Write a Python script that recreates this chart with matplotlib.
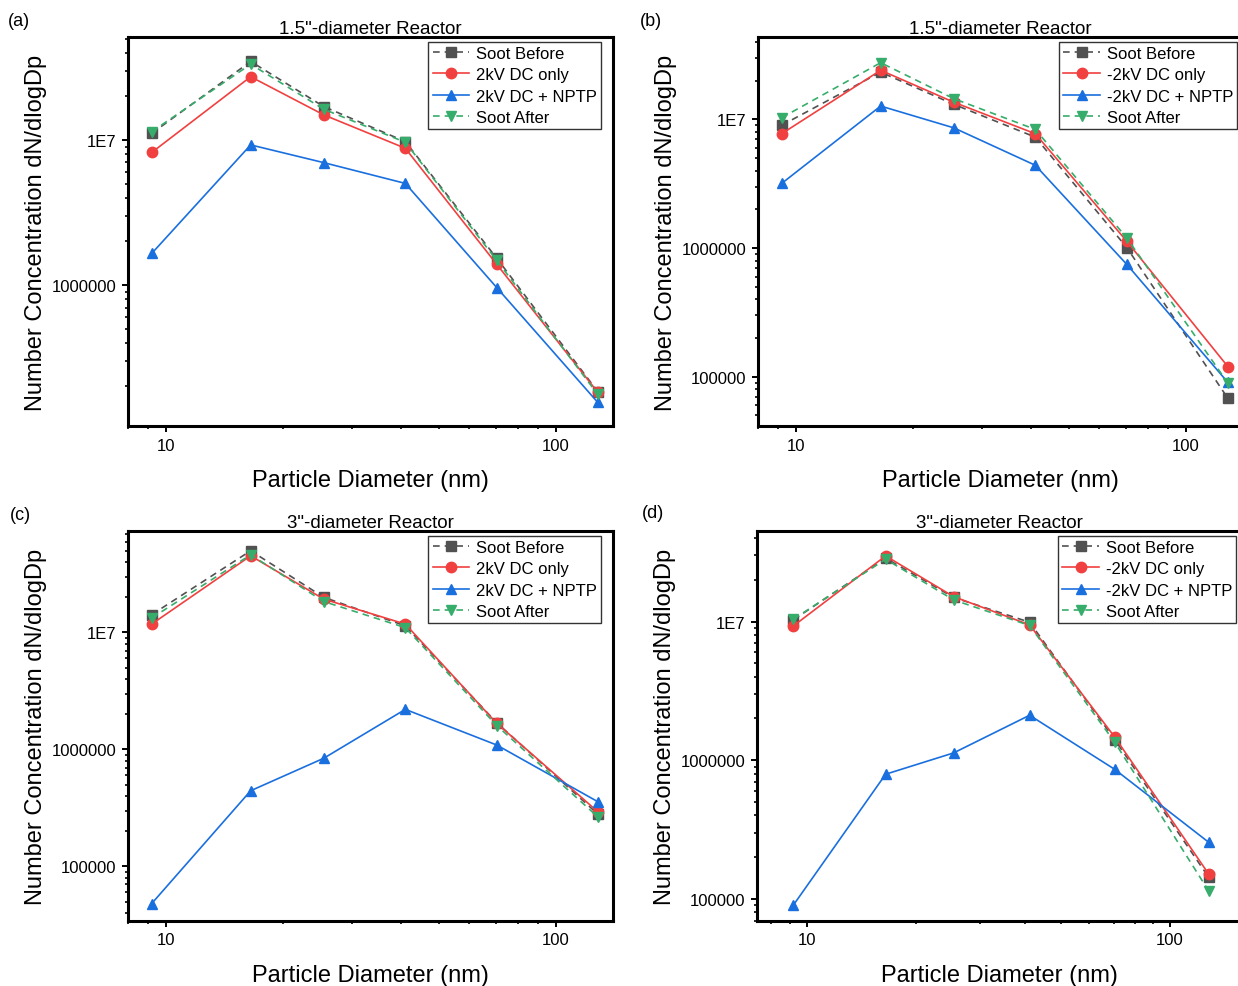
import math
import matplotlib
matplotlib.use("Agg")
import matplotlib.pyplot as plt
from matplotlib.ticker import LogLocator, FuncFormatter, NullFormatter, FixedLocator

plt.rcParams['font.family'] = ['Liberation Sans', 'DejaVu Sans']

# particle diameter bins (nm)
dp = [9.2, 16.5, 25.4, 41.1, 70.5, 128]

# (a) 1.5" reactor, +2kV
a_before = [1.11e7, 3.48e7, 1.70e7, 9.75e6, 1.53e6, 1.84e5]
a_dc = [8.2e6, 2.73e7, 1.49e7, 8.77e6, 1.39e6, 1.82e5]
a_nptp = [1.65e6, 9.25e6, 6.98e6, 5.02e6, 9.6e5, 1.55e5]
a_after = [1.14e7, 3.33e7, 1.63e7, 9.64e6, 1.48e6, 1.76e5]

# (b) 1.5" reactor, -2kV
b_before = [9.0e6, 2.33e7, 1.31e7, 7.28e6, 1.01e6, 6.8e4]
b_dc = [7.74e6, 2.41e7, 1.36e7, 7.74e6, 1.13e6, 1.2e5]
b_nptp = [3.18e6, 1.27e7, 8.6e6, 4.4e6, 7.47e5, 9.04e4]
b_after = [1.03e7, 2.76e7, 1.45e7, 8.36e6, 1.2e6, 8.94e4]

# (c) 3" reactor, +2kV
c_before = [1.42e7, 5.0e7, 2.0e7, 1.14e7, 1.69e6, 2.8e5]
c_dc = [1.18e7, 4.53e7, 1.93e7, 1.18e7, 1.67e6, 2.93e5]
c_nptp = [4.8e4, 4.43e5, 8.4e5, 2.2e6, 1.09e6, 3.57e5]
c_after = [1.33e7, 4.62e7, 1.84e7, 1.1e7, 1.6e6, 2.65e5]

# (d) 3" reactor, -2kV
d_before = [1.03e7, 2.86e7, 1.49e7, 9.88e6, 1.41e6, 1.43e5]
d_dc = [9.3e6, 2.97e7, 1.51e7, 9.46e6, 1.47e6, 1.51e5]
d_nptp = [9.06e4, 7.93e5, 1.13e6, 2.11e6, 8.6e5, 2.56e5]
d_after = [1.04e7, 2.81e7, 1.43e7, 9.36e6, 1.35e6, 1.14e5]

titles = ['1.5"-diameter Reactor', '1.5"-diameter Reactor', '3"-diameter Reactor', '3"-diameter Reactor']
tags = ['(a)', '(b)', '(c)', '(d)']
labels_pos = ['Soot Before', '2kV DC only', '2kV DC + NPTP', 'Soot After']
labels_neg = ['Soot Before', '-2kV DC only', '-2kV DC + NPTP', 'Soot After']

colors = ['#515151', '#F14040', '#1A6FDF', '#37AD6B']
markers = ['s', 'o', '^', 'v']
dashed = [True, False, False, True]

W, H = 1238, 987
fig = plt.figure(figsize=(W / 100, H / 100), dpi=100)

# axes boxes in pixels: left, top, right, bottom
boxes = [(128, 38, 613, 427), (758, 38, 1243, 427),
         (128, 532, 613, 921.5), (757, 532, 1242, 921.5)]
xlims = [(8.0, 140), (8.0, 140), (8.0, 140), (7.3, 158)]
ylims = [(1.067e5, 5.13e7), (4.14e4, 4.37e7), (3.44e4, 7.38e7), (7.0e4, 4.49e7)]
leg_x = [0.975, 0.988, 0.975, 0.988]
tag_xy = [(8, 21), (640, 21), (10, 516), (642, 514)]

panels = [
    [a_before, a_dc, a_nptp, a_after],
    [b_before, b_dc, b_nptp, b_after],
    [c_before, c_dc, c_nptp, c_after],
    [d_before, d_dc, d_nptp, d_after],
]


def ylab(v, pos):
    if v >= 1e7 - 1:
        return "1E%d" % round(math.log10(v))
    return "%d" % round(v)


for i, series in enumerate(panels):
    l, t, r, b = boxes[i]
    ax = fig.add_axes([l / W, 1 - b / H, (r - l) / W, (b - t) / H])
    ax.set_xscale('log')
    ax.set_yscale('log')
    names = labels_pos if i in (0, 2) else labels_neg
    for k, ys in enumerate(series):
        ls = (0, (4, 3)) if dashed[k] else '-'
        ax.plot(dp, ys, color=colors[k], marker=markers[k], linestyle=ls, lw=1.2,
                ms=6.5 if markers[k] == 's' else 7.5, label=names[k])
    ax.set_xlim(*xlims[i])
    ax.set_ylim(*ylims[i])

    ax.xaxis.set_major_locator(FixedLocator([10, 100]))
    ax.xaxis.set_major_formatter(FuncFormatter(lambda v, p: "%d" % round(v)))
    ax.xaxis.set_minor_locator(LogLocator(base=10, subs=range(2, 10)))
    ax.xaxis.set_minor_formatter(NullFormatter())
    ax.yaxis.set_major_locator(LogLocator(base=10, numticks=10))
    ax.yaxis.set_major_formatter(FuncFormatter(ylab))
    ax.yaxis.set_minor_locator(LogLocator(base=10, subs=range(2, 10), numticks=20))
    ax.yaxis.set_minor_formatter(NullFormatter())

    for s in ax.spines.values():
        s.set_linewidth(2.2)
    ax.tick_params(which='major', direction='out', length=4.5, width=1.4, labelsize=12,
                   top=False, right=False, pad=4)
    ax.tick_params(which='minor', direction='out', length=2.5, width=1.2,
                   top=False, right=False)

    ax.set_xlabel('Particle Diameter (nm)', fontsize=17, labelpad=12)
    ax.set_ylabel('Number Concentration dN/dlogDp', fontsize=17, labelpad=3)
    ax.set_title(titles[i], fontsize=13.5, pad=3)

    leg = ax.legend(loc='upper right', bbox_to_anchor=(leg_x[i], 0.988), fontsize=12,
                    frameon=True, fancybox=False, edgecolor='#333333', framealpha=1,
                    borderpad=0.25, labelspacing=0.38, handlelength=2.2,
                    handletextpad=0.4, borderaxespad=0)
    leg.get_frame().set_linewidth(1.0)

    fig.text(tag_xy[i][0] / W, 1 - tag_xy[i][1] / H, tags[i], fontsize=13, va='center', ha='left')

fig.savefig('out.png', dpi=100)
